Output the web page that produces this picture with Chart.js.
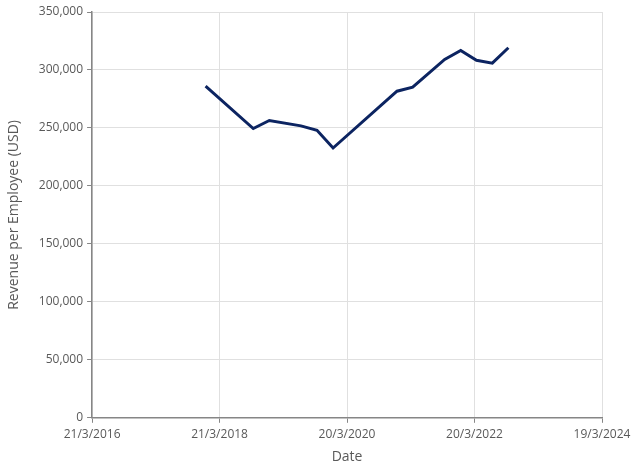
<!DOCTYPE html>
<html>
<head>
<meta charset="utf-8">
<script src="https://cdn.jsdelivr.net/npm/chart.js@4.4.0/dist/chart.umd.min.js"></script>
<style>
html,body{margin:0;padding:0;background:#fff;}
#wrap{width:640px;height:465px;}
</style>
</head>
<body>
<div id="wrap"><canvas id="c" width="640" height="465"></canvas></div>
<script>
const dates = ["2017-12-31","2018-09-30","2018-12-31","2019-06-30","2019-09-30","2019-12-31","2020-12-31","2021-03-31","2021-09-30","2021-12-31","2022-03-31","2022-06-30","2022-09-30"];
const revenuePerEmployee = [286000,249500,256400,251800,248000,232700,281700,285200,309100,316900,308300,305900,319200];
const xTickDates = ["2016-03-21","2018-03-21","2020-03-20","2022-03-20","2024-03-19"];
const yTicks = [0,50000,100000,150000,200000,250000,300000,350000];

const toMs = s => { const p = s.split("-").map(Number); return Date.UTC(p[0], p[1]-1, p[2]); };
const fmt = v => { const d = new Date(v); return d.getUTCDate() + "/" + (d.getUTCMonth()+1) + "/" + d.getUTCFullYear(); };
const xTickVals = xTickDates.map(toMs);
const points = dates.map((d,i) => ({x: toMs(d), y: revenuePerEmployee[i]}));

const font = "'Open Sans', 'Noto Sans', sans-serif";
new Chart(document.getElementById("c"), {
  type: "line",
  data: { datasets: [{
    data: points,
    borderColor: "#0c2461",
    borderWidth: 3,
    pointRadius: 0,
    tension: 0,
    fill: false
  }]},
  options: {
    responsive: false,
    animation: false,
    layout: { padding: { top: 12, right: 38, left: 2, bottom: 0 } },
    plugins: { legend: { display: false }, tooltip: { enabled: false } },
    scales: {
      x: {
        type: "linear",
        min: xTickVals[0],
        max: xTickVals[xTickVals.length-1],
        afterBuildTicks: s => { s.ticks = xTickVals.map(v => ({value: v})); },
        ticks: { callback: v => fmt(v), color: "#595959", font: { family: font, size: 12 }, maxRotation: 0, autoSkip: false, padding: 5 },
        grid: { color: "#e0e0e0", tickColor: "#868686", tickLength: 5 },
        border: { color: "#868686", width: 1.5 },
        title: { display: true, text: "Date", color: "#595959", font: { family: font, size: 14 }, padding: { top: 1, bottom: 0 } }
      },
      y: {
        min: 0, max: 350000,
        afterBuildTicks: s => { s.ticks = yTicks.map(v => ({value: v})); },
        ticks: { callback: v => v.toLocaleString("en-US"), color: "#595959", font: { family: font, size: 12 }, padding: 4 },
        grid: { color: "#e0e0e0", tickColor: "#868686", tickLength: 5 },
        border: { color: "#868686", width: 1.5 },
        title: { display: true, text: "Revenue per Employee (USD)", color: "#595959", font: { family: font, size: 14 }, padding: { bottom: 12 } }
      }
    }
  }
});
</script>
</body>
</html>
